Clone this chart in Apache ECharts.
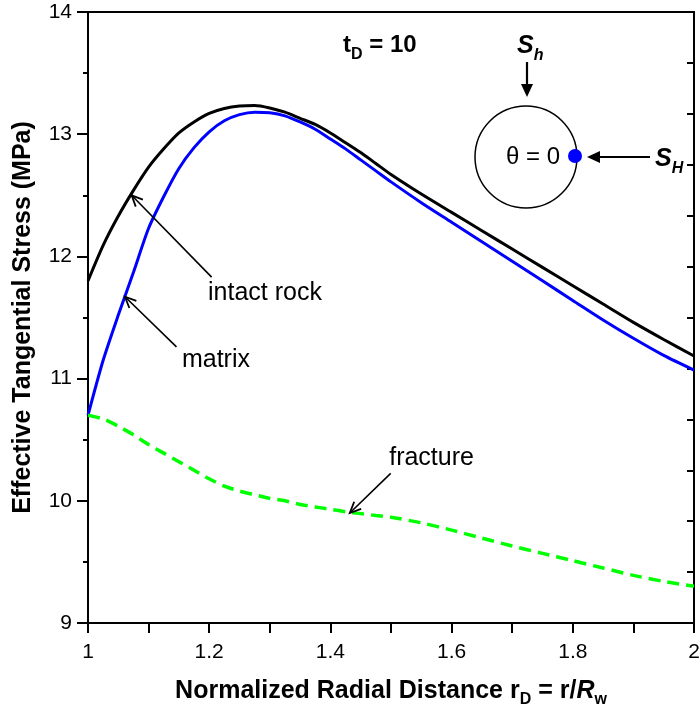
<!DOCTYPE html>
<html>
<head>
<meta charset="utf-8">
<script src="https://cdn.jsdelivr.net/npm/echarts@6/dist/echarts.min.js"></script>
<style>
  html, body { margin: 0; padding: 0; background: #fff; }
  #main { width: 699px; height: 706px; }
</style>
</head>
<body>
<div id="main"></div>
<script>
// normalized radial distance r/Rw
const rD = [1.00, 1.025, 1.05, 1.075, 1.10, 1.125, 1.15, 1.175, 1.20, 1.225, 1.25, 1.275, 1.30, 1.325, 1.35, 1.375,
  1.40, 1.425, 1.45, 1.475, 1.50, 1.55, 1.60, 1.65, 1.70, 1.75, 1.80, 1.85, 1.90, 1.95, 2.00]
// effective tangential stress, MPa
const intactRock = [11.80, 12.09, 12.33, 12.54, 12.73, 12.88, 13.01, 13.10, 13.17, 13.21, 13.23, 13.235, 13.215, 13.18, 13.13, 13.08,
  13.01, 12.93, 12.85, 12.76, 12.67, 12.51, 12.36, 12.21, 12.06, 11.91, 11.76, 11.61, 11.46, 11.32, 11.185]
const matrix = [10.70, 11.15, 11.52, 11.87, 12.23, 12.49, 12.72, 12.89, 13.02, 13.11, 13.16, 13.18, 13.175, 13.15, 13.10, 13.04,
  12.96, 12.88, 12.79, 12.70, 12.61, 12.44, 12.28, 12.12, 11.96, 11.80, 11.64, 11.48, 11.33, 11.19, 11.07]
const fracture = [10.70, 10.67, 10.61, 10.54, 10.46, 10.39, 10.32, 10.25, 10.18, 10.12, 10.08, 10.05, 10.02, 10.00, 9.97, 9.95,
  9.93, 9.91, 9.895, 9.88, 9.865, 9.82, 9.76, 9.695, 9.63, 9.57, 9.51, 9.45, 9.39, 9.34, 9.30]

const FONT = '"Liberation Sans", Arial, sans-serif'

const pairs = arr => rD.map((x, i) => [x, arr[i]])

const chart = echarts.init(document.getElementById('main'))

const option = {
  animation: false,
  grid: { left: 88, right: 5, top: 12, bottom: 83, containLabel: false, outerBoundsMode: 'none' },
  xAxis: [{
    type: 'value',
    min: 1,
    max: 2,
    interval: 0.1,
    axisLine: { show: true, lineStyle: { color: '#000', width: 2 } },
    axisTick: { show: true, length: 10, lineStyle: { color: '#000', width: 2 } },
    splitLine: { show: false },
    axisLabel: {
      color: '#000',
      fontSize: 21,
      fontFamily: FONT,
      margin: 19,
      formatter: v => (Math.round(v * 10) % 2 === 0 ? String(+v.toFixed(1)) : '')
    },
    name: 'Normalized Radial Distance r{sub|D} = r/{it|R}{sub|w}',
    nameLocation: 'middle',
    nameGap: 51,
    nameTextStyle: {
      color: '#000',
      fontSize: 25,
      fontWeight: 'bold',
      fontFamily: FONT,
      lineHeight: 34,
      rich: {
        sub: { fontSize: 16, fontWeight: 'bold', fontFamily: FONT, color: '#000', verticalAlign: 'bottom', lineHeight: 34 },
        it: { fontSize: 25, fontWeight: 'bold', fontStyle: 'italic', fontFamily: FONT, color: '#000' }
      }
    }
  }, {
    type: 'value',
    position: 'top',
    min: 1,
    max: 2,
    axisLine: { show: true, lineStyle: { color: '#000', width: 2 } },
    axisTick: { show: false },
    axisLabel: { show: false },
    splitLine: { show: false }
  }],
  yAxis: [{
    type: 'value',
    min: 9,
    max: 14,
    interval: 1,
    axisLine: { show: true, lineStyle: { color: '#000', width: 2 } },
    axisTick: { show: true, length: 11, lineStyle: { color: '#000', width: 2 } },
    minorTick: { show: true, splitNumber: 2, length: 5, lineStyle: { color: '#000', width: 2 } },
    splitLine: { show: false },
    axisLabel: { color: '#000', fontSize: 21, fontFamily: FONT, margin: 16 },
    name: 'Effective Tangential Stress (MPa)',
    nameLocation: 'middle',
    nameGap: 52,
    nameTextStyle: { color: '#000', fontSize: 25, fontWeight: 'bold', fontFamily: FONT }
  }, {
    type: 'value',
    position: 'right',
    min: 0,
    max: 12,
    interval: 1,
    axisLine: { show: true, lineStyle: { color: '#000', width: 2 } },
    axisTick: { show: true, inside: true, length: 7, lineStyle: { color: '#000', width: 2 } },
    axisLabel: { show: false },
    splitLine: { show: false }
  }],
  series: [{
    name: 'intact rock',
    type: 'line',
    smooth: 0.25,
    showSymbol: false,
    lineStyle: { color: '#000', width: 3 },
    data: pairs(intactRock),
    z: 3
  }, {
    name: 'matrix',
    type: 'line',
    smooth: 0.25,
    showSymbol: false,
    lineStyle: { color: '#0000ff', width: 3 },
    data: pairs(matrix),
    z: 3
  }, {
    name: 'fracture',
    type: 'line',
    smooth: 0.25,
    showSymbol: false,
    lineStyle: { color: '#00ff00', width: 3.5, type: [12, 7] },
    data: pairs(fracture),
    z: 3
  }]
}
chart.setOption(option)

// annotations -------------------------------------------------------------
const toPx = p => chart.convertToPixel({ gridIndex: 0 }, p)

function head (tail, tip, len, half) {
  const dx = tip[0] - tail[0]
  const dy = tip[1] - tail[1]
  const L = Math.hypot(dx, dy)
  const ux = dx / L
  const uy = dy / L
  const bx = tip[0] - ux * len
  const by = tip[1] - uy * len
  return { pts: [[bx - uy * half, by + ux * half], tip, [bx + uy * half, by - ux * half]], base: [bx, by] }
}

function openArrow (tail, tip) {
  const h = head(tail, tip, 11, 5)
  return [
    { type: 'line', shape: { x1: tail[0], y1: tail[1], x2: tip[0], y2: tip[1] }, style: { stroke: '#000', lineWidth: 1.6 }, z: 10 },
    { type: 'polyline', shape: { points: h.pts }, style: { stroke: '#000', lineWidth: 1.8, fill: null }, z: 10 }
  ]
}

function solidArrow (tail, tip) {
  const h = head(tail, tip, 13, 6)
  return [
    { type: 'line', shape: { x1: tail[0], y1: tail[1], x2: h.base[0], y2: h.base[1] }, style: { stroke: '#000', lineWidth: 2.2 }, z: 10 },
    { type: 'polygon', shape: { points: h.pts }, style: { fill: '#000' }, z: 10 }
  ]
}

function label (text, pos, opts) {
  return {
    type: 'text',
    z: 10,
    style: Object.assign({
      text: text,
      x: pos[0],
      y: pos[1],
      fill: '#000',
      fontSize: 25,
      fontFamily: FONT,
      align: 'left',
      verticalAlign: 'middle'
    }, opts || {})
  }
}

const subRich = (size, subSize, style) => ({
  m: { fontSize: size, fontWeight: 'bold', fontStyle: style, fontFamily: FONT, fill: '#000', lineHeight: 36 },
  s: { fontSize: subSize, fontWeight: 'bold', fontStyle: style, fontFamily: FONT, fill: '#000', verticalAlign: 'bottom', lineHeight: 36 }
})

const els = []
// curve callouts, anchored in data coordinates
els.push(...openArrow(toPx([1.204, 11.83]), toPx([1.072, 12.50])))
els.push(label('intact rock', toPx([1.198, 11.70])))
els.push(...openArrow(toPx([1.146, 11.26]), toPx([1.061, 11.67])))
els.push(label('matrix', toPx([1.155, 11.15])))
els.push(...openArrow(toPx([1.4995, 10.225]), toPx([1.432, 9.90])))
els.push(label('fracture', toPx([1.497, 10.35])))

// time label
els.push(label('{m|t}{s|D}{m| = 10}', [343, 45], { rich: subRich(24, 16, 'normal') }))

// borehole sketch
els.push({ type: 'circle', shape: { cx: 526, cy: 157, r: 51 }, style: { stroke: '#000', lineWidth: 1.5, fill: null }, z: 10 })
els.push({ type: 'circle', shape: { cx: 575, cy: 156, r: 7 }, style: { fill: '#0000ff' }, z: 11 })
els.push(label('\u03b8 = 0', [533, 157], { align: 'center', fontSize: 24 }))
els.push(label('{m|S}{s|h}', [517, 46], { rich: subRich(25, 16, 'italic') }))
els.push(...solidArrow([527, 62], [527, 97]))
els.push(...solidArrow([650, 157], [587, 157]))
els.push(label('{m|S}{s|H}', [655, 159], { rich: subRich(25, 16, 'italic') }))

chart.setOption({ graphic: { elements: els } })
</script>
</body>
</html>
